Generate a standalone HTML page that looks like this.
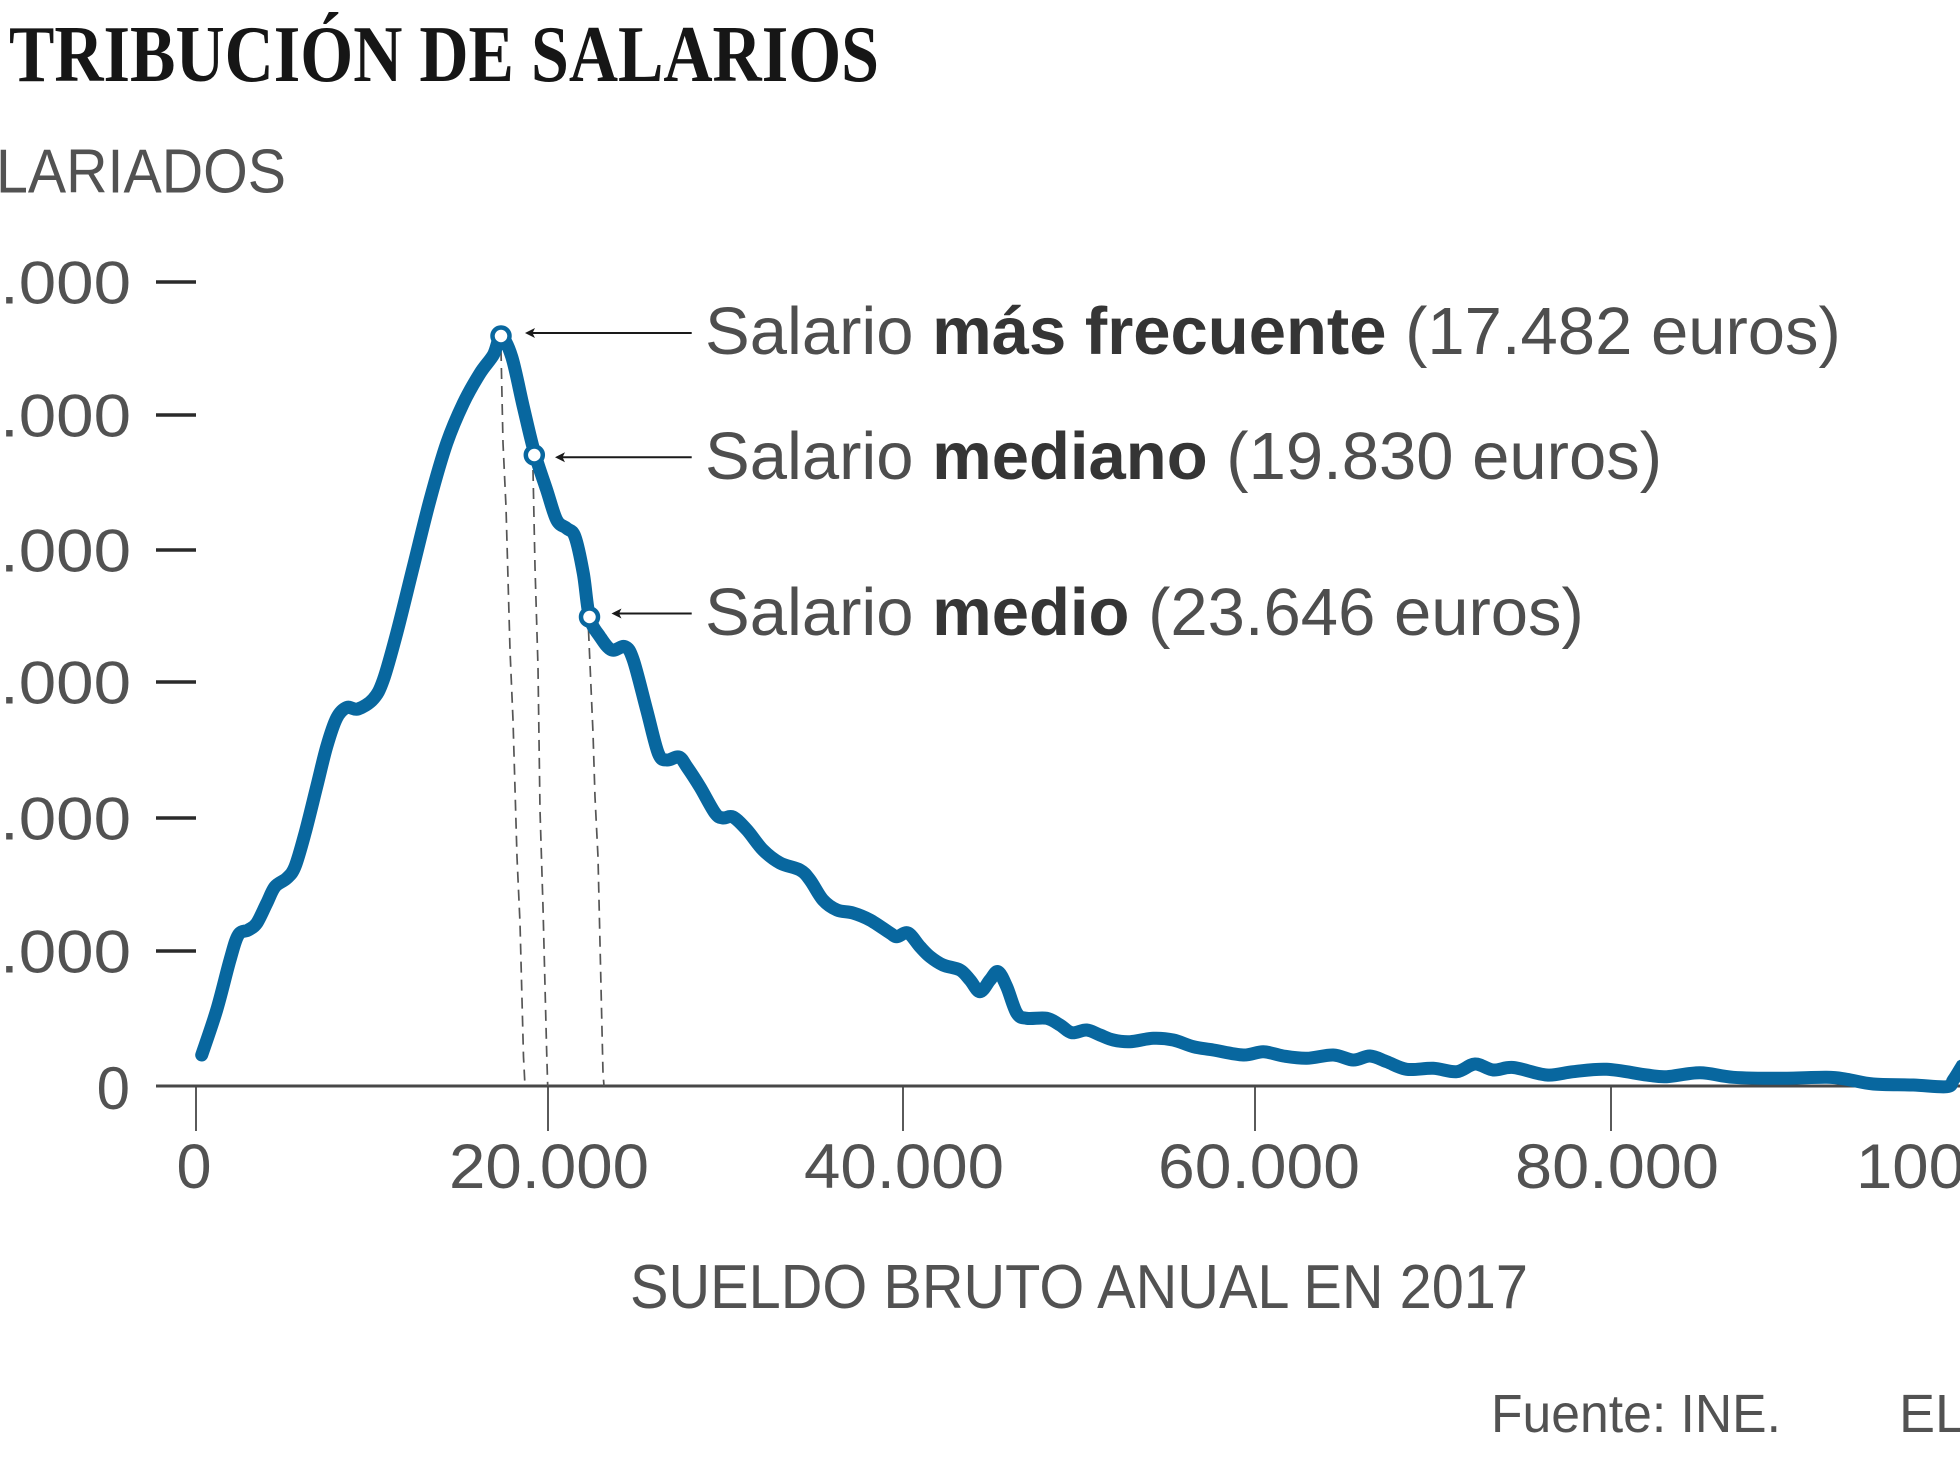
<!DOCTYPE html>
<html>
<head>
<meta charset="utf-8">
<style>
html,body{margin:0;padding:0;background:#ffffff;}
svg{display:block;}
</style>
</head>
<body>
<svg id="chart" width="1960" height="1470" viewBox="0 0 1960 1470" xmlns="http://www.w3.org/2000/svg">
  <rect x="0" y="0" width="1960" height="1470" fill="#ffffff"/>

  <!-- Title -->
  <text x="9" y="81" font-family="'Liberation Serif', serif" font-weight="bold" font-size="80" fill="#161616" textLength="870" lengthAdjust="spacingAndGlyphs">TRIBUCIÓN DE SALARIOS</text>

  <!-- Y axis title -->
  <text x="-4" y="192.5" font-family="'Liberation Sans', sans-serif" font-size="62" fill="#525252" textLength="290" lengthAdjust="spacingAndGlyphs">LARIADOS</text>

  <!-- Y tick labels -->
  <g font-family="'Liberation Sans', sans-serif" font-size="60" fill="#525252">
    <text x="0" y="303.5" textLength="131" lengthAdjust="spacingAndGlyphs">.000</text>
    <text x="0" y="436.5" textLength="131" lengthAdjust="spacingAndGlyphs">.000</text>
    <text x="0" y="571.5" textLength="131" lengthAdjust="spacingAndGlyphs">.000</text>
    <text x="0" y="703.5" textLength="131" lengthAdjust="spacingAndGlyphs">.000</text>
    <text x="0" y="839.5" textLength="131" lengthAdjust="spacingAndGlyphs">.000</text>
    <text x="0" y="972.5" textLength="131" lengthAdjust="spacingAndGlyphs">.000</text>
    <text x="130" y="1109" text-anchor="end">0</text>
  </g>

  <!-- Y tick marks -->
  <g stroke="#2a2a2a" stroke-width="3.5">
    <line x1="156" y1="282" x2="196" y2="282"/>
    <line x1="156" y1="415" x2="196" y2="415"/>
    <line x1="156" y1="550" x2="196" y2="550"/>
    <line x1="156" y1="682" x2="196" y2="682"/>
    <line x1="156" y1="818" x2="196" y2="818"/>
    <line x1="156" y1="951" x2="196" y2="951"/>
  </g>

  <!-- X tick marks -->
  <g stroke="#5a5a5a" stroke-width="2">
    <line x1="196" y1="1086" x2="196" y2="1131"/>
    <line x1="548" y1="1086" x2="548" y2="1131"/>
    <line x1="903" y1="1086" x2="903" y2="1131"/>
    <line x1="1255" y1="1086" x2="1255" y2="1131"/>
    <line x1="1611" y1="1086" x2="1611" y2="1131"/>
  </g>

  <!-- X axis -->
  <line x1="156" y1="1086" x2="1960" y2="1086" stroke="#474747" stroke-width="3"/>

  <!-- X tick labels -->
  <g font-family="'Liberation Sans', sans-serif" font-size="63" fill="#525252">
    <text x="194" y="1188" text-anchor="middle">0</text>
    <text x="449" y="1188" textLength="200" lengthAdjust="spacingAndGlyphs">20.000</text>
    <text x="804" y="1188" textLength="200" lengthAdjust="spacingAndGlyphs">40.000</text>
    <text x="1158" y="1188" textLength="202" lengthAdjust="spacingAndGlyphs">60.000</text>
    <text x="1515" y="1188" textLength="204" lengthAdjust="spacingAndGlyphs">80.000</text>
    <text x="1856" y="1188" textLength="236" lengthAdjust="spacingAndGlyphs">100.000</text>
  </g>

  <!-- X axis title -->
  <text x="630" y="1308" font-family="'Liberation Sans', sans-serif" font-size="62" fill="#525252" textLength="898" lengthAdjust="spacingAndGlyphs">SUELDO BRUTO ANUAL EN 2017</text>

  <!-- Source -->
  <text x="1491" y="1432" font-family="'Liberation Sans', sans-serif" font-size="54" fill="#525252" textLength="290" lengthAdjust="spacingAndGlyphs">Fuente: INE.</text>
  <text x="1899" y="1432" font-family="'Liberation Sans', sans-serif" font-size="54" fill="#525252">EL PAÍS</text>

  <!-- Dashed guide lines -->
  <g fill="none" stroke="#555555" stroke-width="1.7" stroke-dasharray="11 7">
    <polyline points="501,350 503,443 506,507 510,650 513,720 517,857 520,923 523.5,1057 525,1086"/>
    <polyline points="533,470 535,567 538,667 540,810 543,907 546.7,1053 547.7,1086"/>
    <polyline points="588.5,630 593,733 595,797 598,857 603,1073 604,1086"/>
  </g>

  <!-- Distribution curve -->
  <polyline id="curve" fill="none" stroke="#08679f" stroke-width="13" stroke-linejoin="round" stroke-linecap="round" points="
    201.7,1055 216.7,1010 230,960 238.3,935 248.3,930 256.7,923.3 266.7,903.3 275,886.7 286.7,878.3 295,866.7
    305,833.3 316.7,786.7 326.7,746.7 336.7,718 346.7,707.5 358,709 373.3,699 383.3,680 396.7,633.3 413.3,566.7
    430,500 446.7,443.3 463.3,403.3 480,373.3 493.3,355 501,337 511.7,356.7 523.3,406.7 534.3,452 546.7,490
    556.7,520 566.7,528.3 575,536.7 583.3,573.3 589.5,617 600,636.7 611.7,650 625,646.7 633.3,660 646.7,710
    658.3,753.3 667,760 679,757 687,767 700,787 715,813 723,818 733,817 747,830 763,850
    780,863 800,870 810,880 823,900 837,910 853,913 870,920 890,933 897,936.7 908,933
    920,946.7 930,956.7 943,965 960,970 970,980 980,991.7 990,980 998,971.7 1006.7,986.7 1016.7,1013
    1026.7,1018.3 1046.7,1018.3 1060,1025 1071.7,1032.7 1086.7,1030 1100,1035 1113.3,1040 1130,1041.7 1153.3,1038.3 1173.3,1040
    1193.3,1046.7 1213.3,1050 1243.3,1055 1263.3,1051.7 1283.3,1056 1306.7,1058.3 1333.3,1055 1353.3,1060 1370,1056 1386.7,1061.7
    1406.7,1069.3 1433.3,1068.3 1456.7,1071.7 1475,1064 1493.3,1070 1513.3,1067.5 1546.7,1075 1573.3,1071.7 1606.7,1069.3 1646.7,1075
    1666.7,1076.7 1700,1072.7 1733.3,1077.3 1780,1078.3 1826.7,1077.3 1846.7,1079.3 1873.3,1084 1913.3,1085 1946.7,1086.7 1953.3,1080 1962,1066"/>

  <!-- Markers -->
  <g fill="#ffffff" stroke="#08679f" stroke-width="4.5">
    <circle cx="501" cy="336" r="8.5"/>
    <circle cx="534.3" cy="455" r="8.5"/>
    <circle cx="589.5" cy="617" r="8.5"/>
  </g>

  <!-- Arrows -->
  <g stroke="#1a1a1a" stroke-width="2">
    <line x1="529" y1="333" x2="691.7" y2="333"/>
    <line x1="559" y1="457.3" x2="691.7" y2="457.3"/>
    <line x1="615.5" y1="613.5" x2="691.7" y2="613.5"/>
  </g>
  <g fill="#1a1a1a">
    <path d="M525,333 L535,328 L532.5,333 L535,338 Z"/>
    <path d="M555,457.3 L565,452.3 L562.5,457.3 L565,462.3 Z"/>
    <path d="M611.5,613.5 L621.5,608.5 L619,613.5 L621.5,618.5 Z"/>
  </g>

  <!-- Annotations -->
  <g font-family="'Liberation Sans', sans-serif" font-size="67" fill="#4e4e4e">
    <text x="705" y="354">Salario <tspan font-weight="bold" fill="#353535">más frecuente</tspan> (17.482 euros)</text>
    <text x="705" y="479">Salario <tspan font-weight="bold" fill="#353535">mediano</tspan> (19.830 euros)</text>
    <text x="705" y="635">Salario <tspan font-weight="bold" fill="#353535">medio</tspan> (23.646 euros)</text>
  </g>
</svg>
<script>
(function(){
  var pl = document.getElementById('curve');
  if (!pl) return;
  var raw = pl.getAttribute('points').trim().split(/\s+/);
  var pts = [];
  for (var k = 0; k < raw.length; k++) {
    var a = raw[k].split(',');
    if (a.length === 2) pts.push([parseFloat(a[0]), parseFloat(a[1])]);
  }
  if (pts.length < 2) return;
  var d = 'M' + pts[0][0] + ',' + pts[0][1];
  for (var i = 0; i < pts.length - 1; i++) {
    var p0 = pts[i - 1] || pts[i], p1 = pts[i], p2 = pts[i + 1], p3 = pts[i + 2] || p2;
    var c1x = p1[0] + (p2[0] - p0[0]) / 6, c1y = p1[1] + (p2[1] - p0[1]) / 6;
    var c2x = p2[0] - (p3[0] - p1[0]) / 6, c2y = p2[1] - (p3[1] - p1[1]) / 6;
    d += ' C' + c1x.toFixed(2) + ',' + c1y.toFixed(2) + ' ' + c2x.toFixed(2) + ',' + c2y.toFixed(2) + ' ' + p2[0] + ',' + p2[1];
  }
  var path = document.createElementNS('http://www.w3.org/2000/svg', 'path');
  path.setAttribute('d', d);
  path.setAttribute('fill', 'none');
  path.setAttribute('stroke', '#08679f');
  path.setAttribute('stroke-width', '13');
  path.setAttribute('stroke-linejoin', 'round');
  path.setAttribute('stroke-linecap', 'round');
  pl.parentNode.replaceChild(path, pl);
})();
</script>
</body>
</html>
